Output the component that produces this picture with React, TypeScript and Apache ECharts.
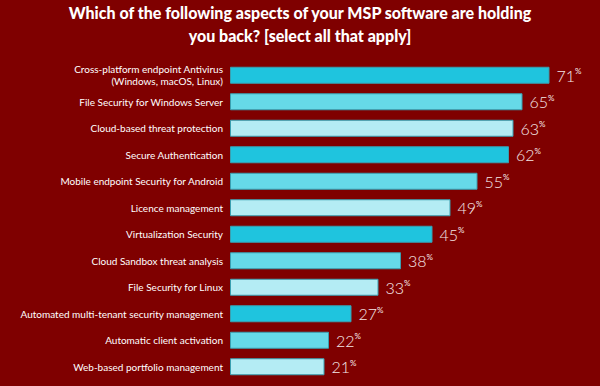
import React, { useEffect, useRef } from "react";
import * as echarts from "echarts";

const categories = [
  "Cross-platform endpoint Antivirus\n(Windows, macOS, Linux)",
  "File Security for Windows Server",
  "Cloud-based threat protection",
  "Secure Authentication",
  "Mobile endpoint Security for Android",
  "Licence management",
  "Virtualization Security",
  "Cloud Sandbox threat analysis",
  "File Security for Linux",
  "Automated multi-tenant security management",
  "Automatic client activation",
  "Web-based portfolio management",
];
const values = [71, 65, 63, 62, 55, 49, 45, 38, 33, 27, 22, 21];
const palette = ["#1fc4de", "#66d9e8", "#b4ecf4"];
const title = "Which of the following aspects of your MSP software are holding\nyou back? [select all that apply]";

export default function App() {
  const ref = useRef<HTMLDivElement>(null);
  useEffect(() => {
    if (!ref.current) return;
    const chart = echarts.init(ref.current, undefined, { renderer: "svg" });
    chart.setOption({
      animation: false,
      backgroundColor: "#7f0000",
      title: {
        text: title,
        left: "center",
        top: -4,
        textStyle: {
          color: "#ffffff",
          fontFamily: "Lato",
          fontWeight: 900,
          fontSize: 16,
          lineHeight: 23,
        },
      },
      grid: { left: 230, right: 10, top: 62, bottom: 6, containLabel: false },
      xAxis: {
        type: "value",
        min: 0,
        max: 80,
        show: false,
      },
      yAxis: {
        type: "category",
        data: categories,
        inverse: true,
        axisLine: { show: false },
        axisTick: { show: false },
        axisLabel: {
          color: "#ffffff",
          fontFamily: "Lato",
          fontSize: 10,
          lineHeight: 12,
          margin: 7,
        },
      },
      series: [
        {
          type: "bar",
          data: values.map((v, i) => ({
            value: v,
            itemStyle: { color: palette[i % 3] },
          })),
          barWidth: 17,
          itemStyle: { borderColor: "#3a9fb0", borderWidth: 1 },
          label: {
            show: true,
            position: "right",
            distance: 7,
            formatter: (p: any) => `{n|${p.value}}{p|%}`,
            rich: {
              n: { color: "#f5e8e8", fontFamily: "Lato", fontSize: 16, fontWeight: 300 },
              p: { color: "#f5e8e8", fontFamily: "Lato", fontSize: 8, verticalAlign: "top", padding: [0, 0, 6, 0] },
            },
          },
        },
      ],
    });
    return () => chart.dispose();
  }, []);
  return (
    <div
      ref={ref}
      style={{ position: "fixed", left: 0, top: 0, width: 600, height: 386 }}
    />
  );
}
